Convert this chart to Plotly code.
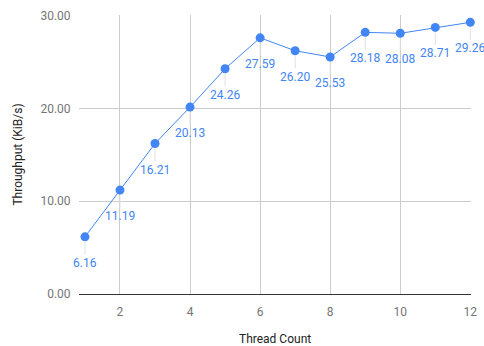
import plotly.graph_objects as go

threads = [1, 2, 3, 4, 5, 6, 7, 8, 9, 10, 11, 12]
throughput = [6.16, 11.19, 16.21, 20.13, 24.26, 27.59, 26.20, 25.53, 28.18, 28.08, 28.71, 29.26]
x_ticks = [2, 4, 6, 8, 10, 12]
y_ticks = [0, 10, 20, 30]

blue = "#4285F4"
fig = go.Figure()
fig.add_trace(go.Scatter(
    x=threads, y=throughput, mode="lines+markers",
    line=dict(color=blue, width=1),
    marker=dict(color=blue, size=9),
    hoverinfo="skip", cliponaxis=False,
))
for x, y in zip(threads, throughput):
    fig.add_annotation(
        x=x, y=y, text=f"{y:.2f}", showarrow=True, ax=0, ay=26,
        arrowhead=0, arrowwidth=1, arrowcolor="#e0e0e0", standoff=5,
        font=dict(color=blue, size=12, family="Roboto"),
    )

fig.add_annotation(
    text="Throughput (KiB/s)", xref="paper", yref="paper", x=-0.158, y=0.5,
    xanchor="center", yanchor="middle", textangle=-90, showarrow=False,
    font=dict(color="#222222", size=12, family="Roboto"),
)
fig.add_annotation(
    text="Thread Count", xref="paper", yref="paper", x=0.5, y=-0.16,
    xanchor="center", yanchor="middle", showarrow=False,
    font=dict(color="#222222", size=12, family="Roboto"),
)

fig.update_layout(
    width=484, height=346, autosize=False,
    margin=dict(l=79, r=13, t=15, b=52, autoexpand=False),
    paper_bgcolor="white", plot_bgcolor="white",
    showlegend=False,
    font=dict(family="Roboto", color="#757575", size=12),
    xaxis=dict(
        range=[0.83, 12.02], tickvals=x_ticks, showgrid=True, gridcolor="#cccccc",
        zeroline=False, showline=False, ticks="outside", ticklen=7, tickcolor="rgba(0,0,0,0)",
        automargin=False,
    ),
    yaxis=dict(
        range=[0, 30.05], tickvals=y_ticks, tickformat=".2f", showgrid=True,
        gridcolor="#cccccc", zeroline=True, zerolinecolor="#333333", zerolinewidth=1,
        showline=False, ticks="outside", ticklen=5, tickcolor="rgba(0,0,0,0)",
        automargin=False,
    ),
)
fig.write_html(
    "out.html",
    config={"displayModeBar": False, "staticPlot": True},
    post_script="document.body.style.margin='0';document.body.style.overflow='hidden';",
)
